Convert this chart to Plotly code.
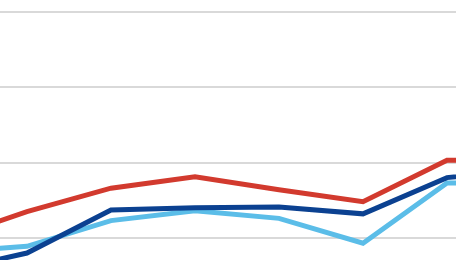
import plotly.graph_objects as go

categories = ["2012", "2013", "2014", "2015", "2016", "2017", "2018", "2019"]
red_values = [9.7, 13.5, 16.6, 18.1, 16.4, 14.8, 20.3, 20.3]
dark_blue_values = [5.5, 8.0, 13.7, 14.0, 14.1, 13.2, 18.0, 19.0]
light_blue_values = [8.1, 8.9, 12.3, 13.6, 12.6, 9.3, 17.3, 17.3]

fig = go.Figure()
fig.add_trace(go.Scatter(x=categories, y=light_blue_values, mode="lines",
                         line=dict(color="#5bbde8", width=5), name="C"))
fig.add_trace(go.Scatter(x=categories, y=dark_blue_values, mode="lines",
                         line=dict(color="#0b4191", width=5), name="B"))
fig.add_trace(go.Scatter(x=categories, y=red_values, mode="lines",
                         line=dict(color="#d23a2e", width=5), name="A"))

fig.update_layout(
    width=456, height=260,
    margin=dict(l=0, r=0, t=0, b=0),
    paper_bgcolor="white", plot_bgcolor="white",
    showlegend=False,
    xaxis=dict(type="category", range=[0.679, 6.107], showgrid=False,
               showticklabels=False, zeroline=False, showline=False, ticks=""),
    yaxis=dict(range=[7.08, 41.55], dtick=10, tick0=0, showgrid=True,
               gridcolor="#d9d9d9", gridwidth=1.5, showticklabels=False,
               zeroline=False, showline=False, ticks=""),
)
fig.write_html("out.html")
